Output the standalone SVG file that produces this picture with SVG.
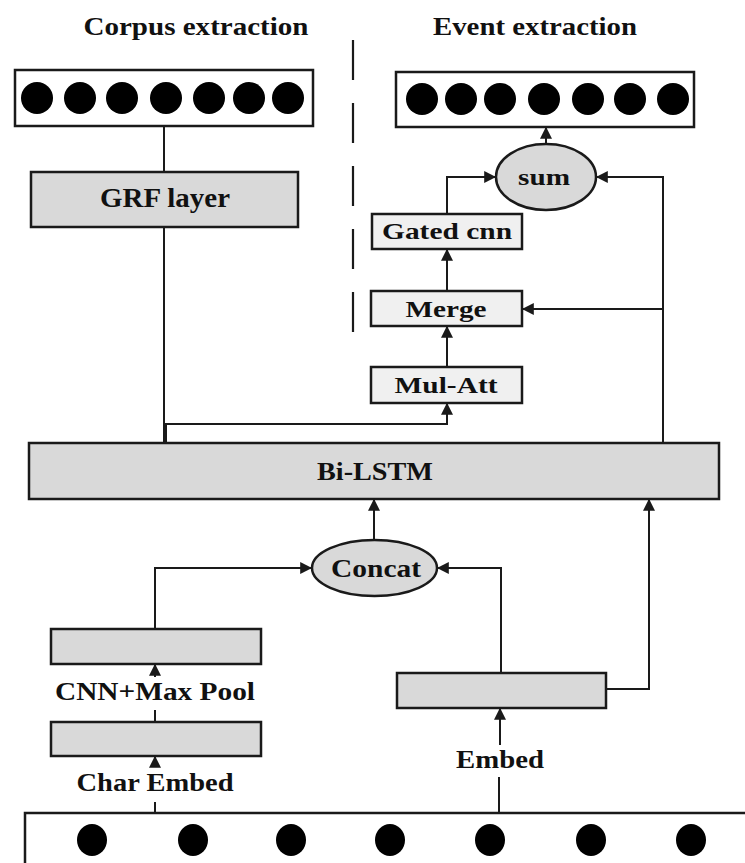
<svg xmlns="http://www.w3.org/2000/svg" width="745" height="863" viewBox="0 0 745 863">
  <style>
    text { font-family: "Liberation Serif", "Times New Roman", serif; font-weight: bold; fill: #111; text-anchor: middle; }
    .box { fill: #d9d9d9; stroke: #1a1a1a; stroke-width: 2.5; }
    .lbox { fill: #f0f0f0; stroke: #1a1a1a; stroke-width: 2.5; }
    .wbox { fill: #ffffff; stroke: #1a1a1a; stroke-width: 2.5; }
    .ell { fill: #d9d9d9; stroke: #1a1a1a; stroke-width: 2.5; }
    .dot { fill: #000; }
    .wire { fill: none; stroke: #1a1a1a; stroke-width: 2; }
    .arr { fill: none; stroke: #1a1a1a; stroke-width: 2; marker-end: url(#head); }
    .sep { fill: none; stroke: #1a1a1a; stroke-width: 2.2; stroke-dasharray: 40 23; }
  </style>
  <defs>
    <marker id="head" viewBox="0 0 10 10" refX="9" refY="5" markerWidth="6" markerHeight="6" markerUnits="strokeWidth" orient="auto">
      <path d="M0,0 L10,5 L0,10 Z" fill="#1a1a1a"/>
    </marker>
  </defs>

  <!-- section titles and divider -->
  <g id="titles">
    <text x="196" y="35" font-size="25" textLength="225" lengthAdjust="spacingAndGlyphs">Corpus extraction</text>
    <text x="535" y="35" font-size="25" textLength="204" lengthAdjust="spacingAndGlyphs">Event extraction</text>
    <line class="sep" x1="353" y1="40" x2="353" y2="332"/>
  </g>

  <!-- corpus output sequence -->
  <g id="corpus-output">
    <rect class="wbox" x="15" y="70" width="298" height="56"/>
    <circle class="dot" cx="37" cy="98" r="16"/>
    <circle class="dot" cx="80" cy="98" r="16"/>
    <circle class="dot" cx="122" cy="98" r="16"/>
    <circle class="dot" cx="166" cy="98" r="16"/>
    <circle class="dot" cx="209" cy="98" r="16"/>
    <circle class="dot" cx="249" cy="98" r="16"/>
    <circle class="dot" cx="288" cy="98" r="16"/>
  </g>

  <g id="grf-layer">
    <rect class="box" x="31" y="172" width="267" height="55"/>
    <text x="165" y="207" font-size="27" textLength="130" lengthAdjust="spacingAndGlyphs">GRF layer</text>
  </g>

  <!-- event output sequence -->
  <g id="event-output">
    <rect class="wbox" x="396" y="72" width="298" height="55"/>
    <circle class="dot" cx="422" cy="99" r="16"/>
    <circle class="dot" cx="461" cy="99" r="16"/>
    <circle class="dot" cx="500" cy="99" r="16"/>
    <circle class="dot" cx="544" cy="99" r="16"/>
    <circle class="dot" cx="588" cy="99" r="16"/>
    <circle class="dot" cx="630" cy="99" r="16"/>
    <circle class="dot" cx="673" cy="99" r="16"/>
  </g>

  <g id="sum">
    <ellipse class="ell" cx="546" cy="177" rx="50" ry="33"/>
    <text x="544" y="185" font-size="24" textLength="52" lengthAdjust="spacingAndGlyphs">sum</text>
  </g>

  <g id="gated-cnn">
    <rect class="lbox" x="372" y="214" width="150" height="35"/>
    <text x="447" y="239" font-size="23" textLength="130" lengthAdjust="spacingAndGlyphs">Gated cnn</text>
  </g>

  <g id="merge">
    <rect class="lbox" x="371" y="291" width="151" height="35"/>
    <text x="446" y="317" font-size="24" textLength="81" lengthAdjust="spacingAndGlyphs">Merge</text>
  </g>

  <g id="mul-att">
    <rect class="lbox" x="371" y="367" width="151" height="36"/>
    <text x="446" y="393" font-size="24" textLength="103" lengthAdjust="spacingAndGlyphs">Mul-Att</text>
  </g>

  <g id="bi-lstm">
    <rect class="box" x="29" y="443" width="690" height="56"/>
    <text x="375" y="480" font-size="26" textLength="116" lengthAdjust="spacingAndGlyphs">Bi-LSTM</text>
  </g>

  <g id="concat">
    <ellipse class="ell" cx="374.5" cy="568" rx="62.5" ry="28"/>
    <text x="376" y="577" font-size="25" textLength="90" lengthAdjust="spacingAndGlyphs">Concat</text>
  </g>

  <g id="cnn-maxpool">
    <rect class="box" x="51" y="629" width="210" height="35"/>
  </g>

  <g id="char-embed">
    <rect class="box" x="51" y="722" width="210" height="34"/>
  </g>

  <g id="word-embed">
    <rect class="box" x="397" y="673" width="209" height="35"/>
  </g>

  <!-- input token sequence -->
  <g id="input-tokens">
    <rect class="wbox" x="25" y="813" width="800" height="100"/>
    <ellipse class="dot" cx="92" cy="840" rx="15" ry="16"/>
    <ellipse class="dot" cx="193" cy="840" rx="15" ry="16"/>
    <ellipse class="dot" cx="291" cy="840" rx="15" ry="16"/>
    <ellipse class="dot" cx="390" cy="840" rx="15" ry="16"/>
    <ellipse class="dot" cx="490" cy="840" rx="15" ry="16"/>
    <ellipse class="dot" cx="591" cy="840" rx="15" ry="16"/>
    <ellipse class="dot" cx="691" cy="840" rx="15" ry="16"/>
  </g>

  <!-- edge labels -->
  <g id="edge-labels">
    <text x="155" y="700" font-size="25" textLength="200" lengthAdjust="spacingAndGlyphs">CNN+Max Pool</text>
    <text x="155" y="791" font-size="25" textLength="157" lengthAdjust="spacingAndGlyphs">Char Embed</text>
    <text x="500" y="768" font-size="25" textLength="88" lengthAdjust="spacingAndGlyphs">Embed</text>
  </g>

  <g id="connectors">
    <!-- corpus branch -->
    <line class="wire" x1="164" y1="126" x2="164" y2="172"/>
    <line class="wire" x1="164" y1="227" x2="164" y2="443"/>
    <!-- event branch -->
    <polyline class="arr" points="166,443 166,424 447,424 447,404"/>
    <line class="arr" x1="447" y1="367" x2="447" y2="327"/>
    <line class="arr" x1="447" y1="291" x2="447" y2="250"/>
    <polyline class="arr" points="447,214 447,177 495,177"/>
    <polyline class="arr" points="663,443 663,177 597,177"/>
    <line class="arr" x1="663" y1="309" x2="523" y2="309"/>
    <line class="arr" x1="546" y1="144" x2="546" y2="128"/>
    <!-- input side -->
    <line class="arr" x1="374" y1="540" x2="374" y2="500"/>
    <polyline class="arr" points="155,629 155,568 311,568"/>
    <polyline class="arr" points="501,673 501,568 438,568"/>
    <polyline class="arr" points="606,689 649,689 649,500"/>
    <line class="arr" x1="155" y1="677" x2="155" y2="665"/>
    <line class="wire" x1="155" y1="710" x2="155" y2="722"/>
    <line class="arr" x1="155" y1="767" x2="155" y2="757"/>
    <line class="wire" x1="155" y1="802" x2="155" y2="813"/>
    <line class="arr" x1="500" y1="745" x2="500" y2="709"/>
    <line class="wire" x1="499" y1="777" x2="499" y2="813"/>
  </g>
</svg>
